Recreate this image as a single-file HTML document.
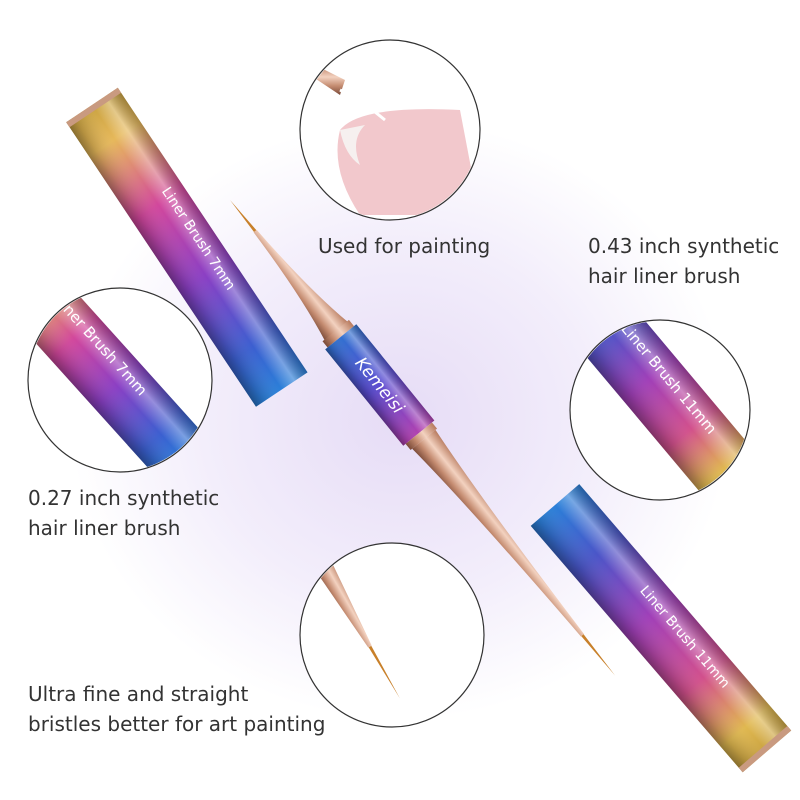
<!DOCTYPE html>
<html><head><meta charset="utf-8"><style>
body{margin:0;background:#fff}
svg{display:block}
text{font-family:"DejaVu Sans","Liberation Sans",sans-serif;fill:#333}
</style></head><body>
<svg width="800" height="800" viewBox="0 0 800 800">
<defs>
<radialGradient id="glow" cx="50%" cy="50%" r="50%">
<stop offset="0" stop-color="#e6dcf6"/><stop offset="0.6" stop-color="#f3eefb"/><stop offset="1" stop-color="#fff"/>
</radialGradient>
<linearGradient id="capA" x1="0" x2="1" y1="0" y2="0">
<stop offset="0" stop-color="#c9a240"/><stop offset="0.12" stop-color="#e6b85a"/><stop offset="0.35" stop-color="#d2479c"/><stop offset="0.6" stop-color="#8a3fc4"/><stop offset="0.85" stop-color="#3b5fd0"/><stop offset="1" stop-color="#2a7fd8"/>
</linearGradient>
<linearGradient id="capB" x1="0" x2="1" y1="0" y2="0">
<stop offset="0" stop-color="#2a7fd8"/><stop offset="0.2" stop-color="#4a55c8"/><stop offset="0.45" stop-color="#a03fb8"/><stop offset="0.7" stop-color="#d2508c"/><stop offset="0.9" stop-color="#e0b850"/><stop offset="1" stop-color="#c9a240"/>
</linearGradient>
<linearGradient id="shade" x1="0" x2="0" y1="0" y2="1">
<stop offset="0" stop-color="#000" stop-opacity="0.25"/><stop offset="0.25" stop-color="#fff" stop-opacity="0.35"/><stop offset="0.5" stop-color="#fff" stop-opacity="0"/><stop offset="0.85" stop-color="#000" stop-opacity="0.15"/><stop offset="1" stop-color="#000" stop-opacity="0.35"/>
</linearGradient>
<linearGradient id="gold" x1="0" x2="0" y1="0" y2="1">
<stop offset="0" stop-color="#b77a5e"/><stop offset="0.4" stop-color="#f3d2c0"/><stop offset="0.7" stop-color="#c48b70"/><stop offset="1" stop-color="#7a4a38"/>
</linearGradient>
<linearGradient id="ferr" x1="0" x2="1">
<stop offset="0" stop-color="#3070d0"/><stop offset="0.5" stop-color="#5a4ad0"/><stop offset="1" stop-color="#b040b0"/>
</linearGradient>
</defs>
<rect width="800" height="800" fill="#fff"/>
<ellipse cx="400" cy="420" rx="330" ry="300" fill="url(#glow)"/>

<g transform="translate(92,105) rotate(56.3)">
<rect x="0" y="-31" width="342" height="62" fill="url(#capA)"/>
<rect x="0" y="-31" width="342" height="62" fill="url(#shade)"/>
<rect x="0" y="-31" width="6" height="62" fill="#c99a80"/>
<text x="110" y="-10" font-family="Liberation Serif" font-size="14" style="fill:#fff">Liner Brush 7mm</text>
</g>
<g transform="translate(555,505) rotate(49.3)">
<rect x="0" y="-32" width="325" height="64" fill="url(#capB)"/>
<rect x="0" y="-32" width="325" height="64" fill="url(#shade)"/>
<rect x="319" y="-32" width="6" height="64" fill="#c99a80"/>
<text x="120" y="-8" font-family="Liberation Serif" font-size="14" style="fill:#fff">Liner Brush 11mm</text>
</g>
<g transform="translate(230,200) rotate(51)">
<polygon points="0,0 40,-1.5 40,1.5" fill="#c8802a"/>
<path d="M40,-2 Q120,-5 170,-15 L170,15 Q120,5 40,2Z" fill="url(#gold)"/>
<rect x="168" y="-17" width="8" height="34" fill="url(#gold)"/>
<rect x="176" y="-20" width="124" height="40" fill="url(#ferr)"/>
<rect x="176" y="-20" width="124" height="40" fill="url(#shade)"/>
<text x="205" y="6" font-family="Liberation Serif" font-style="italic" font-size="17" style="fill:#fff">Kemeisi</text>
<rect x="300" y="-17" width="8" height="34" fill="url(#gold)"/>
<path d="M308,-15 Q390,-7 560,-2 L560,2 Q390,7 308,15Z" fill="url(#gold)"/>
<polygon points="560,-1.5 612,0 560,1.5" fill="#c8802a"/>
</g>

<g fill="#fff" stroke="#333" stroke-width="1.2">
<circle cx="390" cy="130" r="90"/>
<circle cx="120" cy="380" r="92"/>
<circle cx="660" cy="410" r="90"/>
<circle cx="392" cy="635" r="92"/>
</g>
<clipPath id="c1"><circle cx="390" cy="130" r="89"/></clipPath>
<g clip-path="url(#c1)">
<path d="M340,130 Q360,105 460,110 L480,215 L360,215 Q330,170 340,130Z" fill="#f2c8cc"/>
<path d="M340,130 Q345,155 360,165 Q350,140 365,125Z" fill="#f6f0ef"/>
<polygon points="315,65 345,80 340,95 310,75" fill="url(#gold)"/>
<path d="M340,90 L360,100 L385,120" stroke="#fff" stroke-width="3" fill="none"/>
</g>
<clipPath id="c2"><circle cx="120" cy="380" r="91"/></clipPath>
<g clip-path="url(#c2)"><g transform="translate(40,300) rotate(48)">
<rect x="-40" y="-32" width="260" height="64" fill="url(#capA)"/><rect x="-40" y="-32" width="260" height="64" fill="url(#shade)"/>
<text x="10" y="-10" font-family="Liberation Serif" font-size="15" style="fill:#fff">Liner Brush 7mm</text></g></g>
<clipPath id="c3"><circle cx="660" cy="410" r="89"/></clipPath>
<g clip-path="url(#c3)"><g transform="translate(600,320) rotate(50)">
<rect x="-40" y="-34" width="260" height="68" fill="url(#capB)"/><rect x="-40" y="-34" width="260" height="68" fill="url(#shade)"/>
<text x="20" y="-10" font-family="Liberation Serif" font-size="15" style="fill:#fff">Liner Brush 11mm</text></g></g>
<clipPath id="c4"><circle cx="392" cy="635" r="91"/></clipPath>
<g clip-path="url(#c4)"><g transform="translate(320,560) rotate(60)">
<path d="M-30,-12 L100,-2 L100,2 L-30,12Z" fill="url(#gold)"/>
<polygon points="100,-1.5 160,0 100,1.5" fill="#c8802a"/></g></g>

<text x="318" y="253" font-size="20">Used for painting</text>
<text x="588" y="253" font-size="20">0.43 inch synthetic</text>
<text x="588" y="283" font-size="20">hair liner brush</text>
<text x="28" y="505" font-size="20">0.27 inch synthetic</text>
<text x="28" y="535" font-size="20">hair liner brush</text>
<text x="28" y="701" font-size="20">Ultra fine and straight</text>
<text x="28" y="731" font-size="20">bristles better for art painting</text>
</svg>
</body></html>
